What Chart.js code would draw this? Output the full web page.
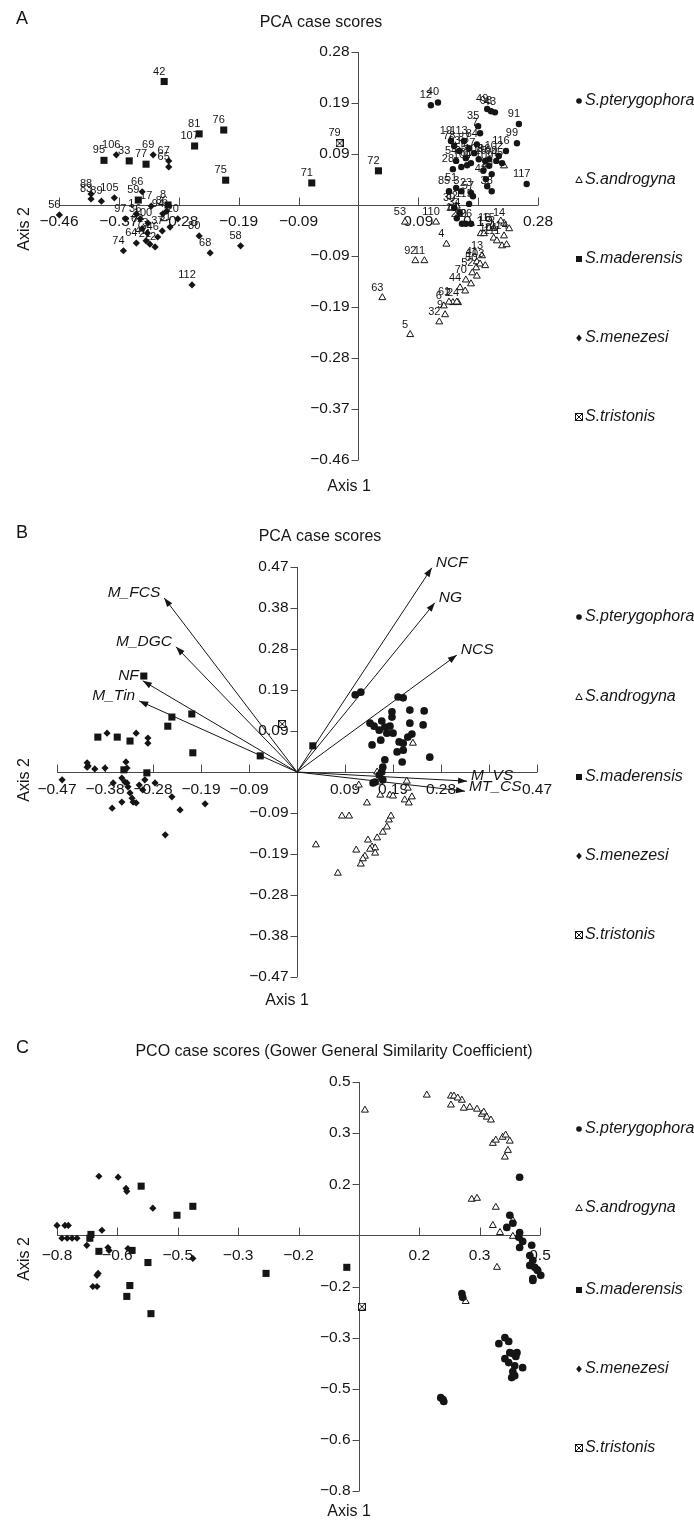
<!DOCTYPE html>
<html>
<head>
<meta charset="utf-8">
<title>PCA / PCO case scores</title>
<script src="https://cdn.jsdelivr.net/npm/chart.js@4.4.1/dist/chart.umd.min.js"></script>
<style>
  html, body { margin: 0; padding: 0; background: #fff; }
  #page { position: relative; width: 694px; height: 1525px; overflow: hidden; }
  #page canvas { position: absolute; left: 0; }
</style>
</head>
<body>
<div id="page">
  <canvas id="panelA" width="694" height="510" style="top:0px"></canvas>
  <canvas id="panelB" width="694" height="500" style="top:510px"></canvas>
  <canvas id="panelC" width="694" height="505" style="top:1020px"></canvas>
</div>
<script>
'use strict';

var speciesNames = ['S.pterygophora', 'S.androgyna', 'S.maderensis', 'S.menezesi', 'S.tristonis'];

// Axis ticks (same step both ways on each panel)
var pcaTicks = [-0.4625, -0.37, -0.2775, -0.185, -0.0925, 0.0925, 0.185, 0.2775];
var pcaTickLabels = ['\u22120.46', '\u22120.37', '\u22120.28', '\u22120.19', '\u22120.09', '0.09', '0.19', '0.28'];

var biplotTicks = [-0.47, -0.376, -0.282, -0.188, -0.094, 0.094, 0.188, 0.282, 0.376, 0.47];
var biplotXTickLabels = ['\u22120.47', '\u22120.38', '\u22120.28', '\u22120.19', '\u22120.09', '0.09', '0.19', '0.28', '', '0.47'];
var biplotYTickLabels = ['\u22120.47', '\u22120.38', '\u22120.28', '\u22120.19', '\u22120.09', '0.09', '0.19', '0.28', '0.38', '0.47'];

var pcoTicks = [-0.8, -0.64, -0.48, -0.32, -0.16, 0.16, 0.32, 0.48];
var pcoTickLabels = ['\u22120.8', '\u22120.6', '\u22120.5', '\u22120.3', '\u22120.2', '0.2', '0.3', '0.5'];

// ---- Panel A : PCA case scores, [axis1, axis2, case number] ----
var aPterygophora = [
  [0.112, 0.181, '12'], [0.123, 0.186, '40'], [0.199, 0.174, '49'], [0.205, 0.170, '98'],
  [0.211, 0.168, '43'], [0.248, 0.147, '91'], [0.245, 0.112, '99'], [0.185, 0.143, '35'],
  [0.188, 0.130, '7'], [0.228, 0.098, '116'], [0.146, 0.065, '28'], [0.168, 0.072, '104'],
  [0.206, 0.056, '10'], [0.202, 0.071, '109'], [0.260, 0.038, '117'], [0.197, 0.047, '48'],
  [0.206, 0.025, '38'], [0.140, 0.025, '85'], [0.151, 0.031, '51'], [0.159, 0.025, '3'],
  [0.174, 0.022, '23'], [0.177, 0.016, '57'], [0.171, 0.002, '115'], [0.148, -0.005, '30'],
  [0.156, -0.014, '34'], [0.152, -0.024, '18'], [0.160, -0.034, '29'], [0.166, -0.034, '39'],
  [0.174, -0.034, '26'], [0.143, 0.116, '19'], [0.148, 0.107, '78'], [0.156, 0.098, '93'],
  [0.163, 0.116, '113'], [0.171, 0.103, '87'], [0.179, 0.094, '27'], [0.183, 0.110, '84'],
  [0.151, 0.080, '54'], [0.166, 0.085, '55'], [0.174, 0.076, '60'], [0.186, 0.083, '108'],
  [0.196, 0.080, '25'], [0.202, 0.083, '96'], [0.213, 0.080, '90'], [0.217, 0.089, '102'],
  [0.222, 0.076, '45'], [0.159, 0.069, ''], [0.193, 0.062, ''], [0.199, 0.034, '']
];
var aAndrogyna = [
  [0.080, -0.235, '5'], [0.037, -0.168, '63'], [0.088, -0.101, '92'], [0.102, -0.101, '11'],
  [0.136, -0.071, '4'], [0.120, -0.031, '110'], [0.072, -0.031, '53'], [0.183, -0.103, '41'],
  [0.182, -0.114, '50'], [0.176, -0.123, '52'], [0.166, -0.136, '70'], [0.157, -0.150, '44'],
  [0.154, -0.177, '24'], [0.146, -0.177, '2'], [0.140, -0.176, '61'], [0.134, -0.199, '9'],
  [0.125, -0.212, '32'], [0.132, -0.183, '6'], [0.191, -0.092, '13'], [0.188, -0.107, '103'],
  [0.196, -0.110, ''], [0.183, -0.129, ''], [0.174, -0.143, ''], [0.165, -0.156, ''],
  [0.152, -0.176, ''], [0.189, -0.052, ''], [0.194, -0.052, ''], [0.209, -0.060, '101'],
  [0.214, -0.065, '111'], [0.225, -0.056, '114'], [0.225, -0.033, '14'], [0.209, -0.042, '15'],
  [0.202, -0.042, '16'], [0.225, 0.071, ''], [0.152, -0.002, '82'], [0.143, -0.005, ''],
  [0.220, -0.029, ''], [0.233, -0.043, ''], [0.222, -0.074, ''], [0.229, -0.072, '']
];
var aMaderensis = [
  [-0.300, 0.224, '42'], [-0.246, 0.129, '81'], [-0.253, 0.107, '107'], [-0.208, 0.136, '76'],
  [-0.393, 0.081, '95'], [-0.354, 0.080, '33'], [-0.328, 0.074, '77'], [-0.205, 0.045, '75'],
  [-0.072, 0.040, '71'], [0.031, 0.062, '72'], [-0.340, 0.009, '59'], [-0.294, 0.000, '8']
];
var aMenezesi = [
  [-0.462, -0.018, '56'], [-0.374, 0.091, '106'], [-0.317, 0.091, '69'], [-0.293, 0.080, '67'],
  [-0.293, 0.069, '65'], [-0.413, 0.020, '88'], [-0.413, 0.011, '83'], [-0.397, 0.007, '89'],
  [-0.377, 0.013, '105'], [-0.334, 0.024, '66'], [-0.360, -0.025, '97'], [-0.343, -0.016, '1'],
  [-0.337, -0.025, '36'], [-0.325, -0.033, '100'], [-0.302, -0.016, '94'], [-0.303, -0.047, '37'],
  [-0.279, -0.025, '20'], [-0.246, -0.056, '80'], [-0.229, -0.087, '68'], [-0.182, -0.074, '58'],
  [-0.363, -0.083, '74'], [-0.343, -0.069, '64'], [-0.328, -0.065, '47'], [-0.322, -0.071, '21'],
  [-0.314, -0.076, '22'], [-0.334, -0.043, '62'], [-0.326, -0.051, '73'], [-0.257, -0.145, '112'],
  [-0.296, -0.011, '86'], [-0.320, -0.002, '17'], [-0.310, -0.058, '46'], [-0.291, -0.040, '31']
];
var aTristonis = [[-0.029, 0.112, '79']];

// ---- Panel B : PCA biplot ----
var bPterygophora = [
  [0.114, 0.177], [0.125, 0.183], [0.198, 0.172], [0.208, 0.170], [0.221, 0.142], [0.249, 0.140],
  [0.186, 0.138], [0.186, 0.126], [0.166, 0.117], [0.143, 0.112], [0.151, 0.105], [0.161, 0.096],
  [0.172, 0.103], [0.182, 0.105], [0.188, 0.089], [0.176, 0.089], [0.164, 0.073], [0.147, 0.062],
  [0.225, 0.087], [0.217, 0.080], [0.200, 0.069], [0.208, 0.066], [0.247, 0.108], [0.196, 0.046],
  [0.208, 0.050], [0.260, 0.034], [0.206, 0.023], [0.172, 0.028], [0.168, 0.011], [0.166, 0.000],
  [0.161, -0.007], [0.153, -0.023], [0.149, -0.025], [0.168, -0.018], [0.221, 0.112]
];
var bAndrogyna = [
  [0.121, -0.030], [0.137, -0.071], [0.088, -0.101], [0.102, -0.101], [0.037, -0.167], [0.080, -0.232],
  [0.116, -0.179], [0.139, -0.156], [0.147, -0.172], [0.153, -0.174], [0.157, -0.151], [0.168, -0.138],
  [0.176, -0.126], [0.180, -0.110], [0.184, -0.101], [0.133, -0.193], [0.129, -0.199], [0.125, -0.211],
  [0.153, -0.186], [0.157, 0.000], [0.163, -0.053], [0.182, -0.053], [0.188, -0.055], [0.211, -0.064],
  [0.215, -0.021], [0.225, -0.057], [0.219, -0.071], [0.227, 0.066], [0.161, -0.023], [0.217, -0.037],
  [0.143, -0.177]
];
var bMaderensis = [
  [-0.390, 0.080], [-0.352, 0.080], [-0.327, 0.071], [-0.253, 0.105], [-0.245, 0.126], [-0.206, 0.133],
  [-0.204, 0.044], [-0.072, 0.037], [0.031, 0.060], [-0.339, 0.005], [-0.294, -0.002], [-0.300, 0.220]
];
var bMenezesi = [
  [-0.460, -0.018], [-0.411, 0.021], [-0.409, 0.014], [-0.396, 0.007], [-0.376, 0.009], [-0.372, 0.089],
  [-0.362, -0.083], [-0.360, -0.025], [-0.343, -0.069], [-0.343, -0.014], [-0.337, -0.023], [-0.335, 0.023],
  [-0.333, 0.009], [-0.331, -0.034], [-0.327, -0.048], [-0.323, -0.060], [-0.321, -0.069], [-0.315, -0.071],
  [-0.315, 0.089], [-0.309, -0.030], [-0.302, -0.041], [-0.298, -0.018], [-0.292, 0.078], [-0.292, 0.066],
  [-0.278, -0.025], [-0.258, -0.144], [-0.245, -0.057], [-0.229, -0.087], [-0.180, -0.073], [-0.333, -0.025],
  [-0.411, 0.011]
];
var bTristonis = [[-0.029, 0.110]];

// variable vectors of the biplot
var vectorNames = ['M_FCS', 'M_DGC', 'NF', 'M_Tin', 'NCF', 'NG', 'NCS', 'M_VS', 'MT_CS'];
var vectorX = [-0.260, -0.237, -0.302, -0.309, 0.264, 0.270, 0.313, 0.333, 0.329];
var vectorY = [0.399, 0.287, 0.209, 0.163, 0.468, 0.388, 0.268, -0.021, -0.044];

// ---- Panel C : PCO case scores ----
var cPterygophora = [
  [0.426, 0.182], [0.400, 0.063], [0.408, 0.038], [0.392, 0.025], [0.426, 0.009], [0.424, -0.006],
  [0.434, -0.019], [0.426, -0.038], [0.458, -0.031], [0.453, -0.063], [0.461, -0.078], [0.453, -0.094],
  [0.466, -0.100], [0.474, -0.110], [0.482, -0.125], [0.461, -0.135], [0.472, -0.107], [0.273, -0.182],
  [0.275, -0.194], [0.371, -0.339], [0.387, -0.320], [0.397, -0.332], [0.400, -0.367], [0.408, -0.370],
  [0.419, -0.367], [0.416, -0.379], [0.387, -0.386], [0.397, -0.398], [0.413, -0.408], [0.434, -0.414],
  [0.408, -0.426], [0.405, -0.445], [0.413, -0.439], [0.217, -0.508], [0.223, -0.514], [0.225, -0.520],
  [0.461, -0.141]
];
var cAndrogyna = [
  [0.016, 0.392], [0.180, 0.439], [0.244, 0.436], [0.252, 0.436], [0.244, 0.408], [0.273, 0.423],
  [0.278, 0.398], [0.294, 0.401], [0.262, 0.430], [0.313, 0.395], [0.326, 0.379], [0.331, 0.386],
  [0.339, 0.370], [0.350, 0.361], [0.355, 0.288], [0.363, 0.298], [0.381, 0.307], [0.389, 0.314],
  [0.400, 0.295], [0.395, 0.266], [0.387, 0.245], [0.299, 0.113], [0.313, 0.116], [0.363, 0.088],
  [0.355, 0.031], [0.374, 0.009], [0.408, 0.047], [0.408, -0.003], [0.366, -0.100], [0.283, -0.207]
];
var cMaderensis = [
  [-0.577, 0.154], [-0.440, 0.091], [-0.482, 0.063], [-0.710, 0.003], [-0.713, -0.009], [-0.689, -0.050],
  [-0.601, -0.047], [-0.559, -0.085], [-0.246, -0.119], [-0.607, -0.157], [-0.615, -0.191], [-0.551, -0.245],
  [-0.032, -0.100]
];
var cMenezesi = [
  [-0.689, 0.185], [-0.638, 0.182], [-0.617, 0.147], [-0.615, 0.138], [-0.546, 0.085], [-0.800, 0.031],
  [-0.779, 0.031], [-0.770, 0.031], [-0.787, -0.009], [-0.773, -0.009], [-0.760, -0.009], [-0.747, -0.009],
  [-0.681, 0.016], [-0.721, -0.031], [-0.665, -0.038], [-0.662, -0.047], [-0.612, -0.041], [-0.440, -0.072],
  [-0.691, -0.119], [-0.694, -0.125], [-0.705, -0.160], [-0.694, -0.160]
];
var cTristonis = [[0.008, -0.223]];

// ---- styling ----
var INK = '#151515';
var AXIS_COLOR = '#4a4a4a';
var FONT = '"Liberation Sans", Arial, Helvetica, sans-serif';

function makeTristonisMarker(size) {
  var c = document.createElement('canvas');
  c.width = size;
  c.height = size;
  var g = c.getContext('2d');
  g.fillStyle = '#fff';
  g.fillRect(0, 0, size, size);
  g.strokeStyle = INK;
  g.lineWidth = 1;
  g.strokeRect(0.5, 0.5, size - 1, size - 1);
  g.beginPath();
  g.moveTo(1, 1);
  g.lineTo(size - 1, size - 1);
  g.moveTo(size - 1, 1);
  g.lineTo(1, size - 1);
  g.stroke();
  return c;
}

var markerStyles = [
  { pointStyle: 'circle', radius: 3.2, fill: INK, border: 0 },
  { pointStyle: 'triangle', radius: 4, fill: '#fff', border: 1 },
  { pointStyle: 'rect', radius: 5, fill: INK, border: 0 },
  { pointStyle: 'rectRot', radius: 3.6, fill: INK, border: 0 },
  { pointStyle: makeTristonisMarker(8), radius: 4, fill: '#fff', border: 1 }
];

function speciesDataset(idx, rows, scale) {
  var s = markerStyles[idx];
  return {
    label: speciesNames[idx],
    data: rows.map(function (r) { return { x: r[0], y: r[1] }; }),
    caseLabels: rows.map(function (r) { return r[2] || ''; }),
    pointStyle: s.pointStyle,
    pointRadius: idx === 0 ? s.radius * scale : s.radius,
    pointBackgroundColor: s.fill,
    pointBorderColor: INK,
    pointBorderWidth: s.border,
    showLine: false,
    clip: false
  };
}

function vectorDatasets() {
  return vectorNames.map(function (name, i) {
    return {
      label: name,
      arrowLabel: name,
      data: [{ x: 0, y: 0 }, { x: vectorX[i], y: vectorY[i] }],
      showLine: true,
      borderColor: INK,
      borderWidth: 1,
      pointRadius: 0,
      clip: false
    };
  });
}

function drawLegendMarker(ctx, idx, x, y) {
  ctx.beginPath();
  if (idx === 0) {
    ctx.arc(x, y, 2.8, 0, Math.PI * 2);
    ctx.fill();
  } else if (idx === 1) {
    ctx.moveTo(x, y - 3.5);
    ctx.lineTo(x + 3.2, y + 2.5);
    ctx.lineTo(x - 3.2, y + 2.5);
    ctx.closePath();
    ctx.stroke();
  } else if (idx === 2) {
    ctx.fillRect(x - 3, y - 3, 6, 6);
  } else if (idx === 3) {
    ctx.moveTo(x, y - 3.6);
    ctx.lineTo(x + 2.8, y);
    ctx.lineTo(x, y + 3.6);
    ctx.lineTo(x - 2.8, y);
    ctx.closePath();
    ctx.fill();
  } else {
    ctx.drawImage(markerStyles[4].pointStyle, x - 4, y - 4);
  }
}

var figurePlugin = {
  id: 'figure',
  beforeDatasetsDraw: function (chart, args, opts) {
    var ctx = chart.ctx;
    var area = chart.chartArea;
    var xs = chart.scales.x;
    var ys = chart.scales.y;
    var x0 = Math.round(xs.getPixelForValue(0)) + 0.5;
    var y0 = Math.round(ys.getPixelForValue(0)) + 0.5;

    ctx.save();
    ctx.strokeStyle = AXIS_COLOR;
    ctx.lineWidth = 1;
    ctx.beginPath();
    ctx.moveTo(area.left, y0);
    ctx.lineTo(area.right, y0);
    ctx.moveTo(x0, area.top);
    ctx.lineTo(x0, area.bottom);
    opts.xTicks.forEach(function (v) {
      var px = Math.round(xs.getPixelForValue(v)) + 0.5;
      ctx.moveTo(px, y0);
      ctx.lineTo(px, y0 - 8);
    });
    opts.yTicks.forEach(function (v) {
      var py = Math.round(ys.getPixelForValue(v)) + 0.5;
      ctx.moveTo(x0 - 7, py);
      ctx.lineTo(x0, py);
    });
    ctx.stroke();

    ctx.fillStyle = INK;
    ctx.font = '15.5px ' + FONT;
    ctx.textBaseline = 'middle';
    ctx.textAlign = 'center';
    opts.xTicks.forEach(function (v, i) {
      ctx.fillText(opts.xTickLabels[i], xs.getPixelForValue(v), y0 + opts.xLabelGap);
    });
    ctx.textAlign = 'right';
    opts.yTicks.forEach(function (v, i) {
      ctx.fillText(opts.yTickLabels[i], x0 - 9, ys.getPixelForValue(v));
    });
    ctx.restore();
  },
  afterDatasetsDraw: function (chart, args, opts) {
    var ctx = chart.ctx;
    ctx.save();
    ctx.fillStyle = INK;
    ctx.strokeStyle = INK;
    ctx.textBaseline = 'middle';

    // case numbers next to points (panel A)
    ctx.font = '11px ' + FONT;
    ctx.textAlign = 'center';
    chart.data.datasets.forEach(function (ds, i) {
      if (!ds.caseLabels) {
        return;
      }
      chart.getDatasetMeta(i).data.forEach(function (el, j) {
        if (ds.caseLabels[j]) {
          ctx.fillText(ds.caseLabels[j], el.x - 5, el.y - 10);
        }
      });
    });

    // arrow heads and variable names (panel B)
    ctx.font = 'italic 15.5px ' + FONT;
    chart.data.datasets.forEach(function (ds, i) {
      if (!ds.arrowLabel) {
        return;
      }
      var pts = chart.getDatasetMeta(i).data;
      var a = pts[0];
      var b = pts[pts.length - 1];
      var ang = Math.atan2(b.y - a.y, b.x - a.x);
      var c = Math.cos(ang);
      var s = Math.sin(ang);
      ctx.beginPath();
      ctx.moveTo(b.x, b.y);
      ctx.lineTo(b.x - 9 * c + 3.2 * s, b.y - 9 * s - 3.2 * c);
      ctx.lineTo(b.x - 9 * c - 3.2 * s, b.y - 9 * s + 3.2 * c);
      ctx.closePath();
      ctx.fill();
      var toLeft = b.x < a.x;
      ctx.textAlign = toLeft ? 'right' : 'left';
      ctx.fillText(ds.arrowLabel, b.x + (toLeft ? -4 : 4), b.y - 5);
    });

    // panel letter, title, axis names
    ctx.textAlign = 'left';
    ctx.font = '18px ' + FONT;
    ctx.fillText(opts.letter, opts.letterPos[0], opts.letterPos[1]);
    ctx.textAlign = 'center';
    ctx.font = '16px ' + FONT;
    ctx.fillText(opts.title, opts.titlePos[0], opts.titlePos[1]);
    ctx.fillText('Axis 1', opts.axis1Pos[0], opts.axis1Pos[1]);
    ctx.save();
    ctx.translate(opts.axis2Pos[0], opts.axis2Pos[1]);
    ctx.rotate(-Math.PI / 2);
    ctx.fillText('Axis 2', 0, 0);
    ctx.restore();

    // legend
    ctx.textAlign = 'left';
    ctx.font = 'italic 16px ' + FONT;
    ctx.lineWidth = 1;
    speciesNames.forEach(function (name, i) {
      var y = opts.legendY[i];
      drawLegendMarker(ctx, i, opts.legendX, y);
      ctx.fillText(name, opts.legendX + 6, y);
    });
    ctx.restore();
  }
};

function buildPanel(canvasId, datasets, panel) {
  var ctx = document.getElementById(canvasId).getContext('2d');
  return new Chart(ctx, {
    type: 'scatter',
    data: { datasets: datasets },
    options: {
      responsive: false,
      animation: false,
      devicePixelRatio: 1,
      events: [],
      layout: { padding: panel.padding },
      scales: {
        x: { type: 'linear', display: false, min: panel.xMin, max: panel.xMax },
        y: { type: 'linear', display: false, min: panel.yMin, max: panel.yMax }
      },
      plugins: {
        legend: { display: false },
        tooltip: { enabled: false },
        figure: panel.figure
      }
    },
    plugins: [figurePlugin]
  });
}

document.addEventListener('DOMContentLoaded', function () {
  if (typeof window.Chart !== 'function') {
    console.error('Chart.js introuvable.');
    return;
  }

  // A - PCA case scores with case numbers
  buildPanel('panelA', [
    speciesDataset(0, aPterygophora, 1),
    speciesDataset(2, aMaderensis, 1),
    speciesDataset(3, aMenezesi, 1),
    speciesDataset(4, aTristonis, 1),
    speciesDataset(1, aAndrogyna, 1)
  ], {
    padding: { left: 59, right: 156, top: 52, bottom: 50 },
    xMin: -0.4625, xMax: 0.2775, yMin: -0.4625, yMax: 0.2775,
    figure: {
      letter: 'A', letterPos: [16, 19],
      title: 'PCA case scores', titlePos: [321, 23],
      xTicks: pcaTicks, xTickLabels: pcaTickLabels,
      yTicks: pcaTicks, yTickLabels: pcaTickLabels,
      xLabelGap: 16,
      axis1Pos: [349, 487], axis2Pos: [25, 229],
      legendX: 579, legendY: [101, 180, 259, 338, 417]
    }
  });

  // B - PCA biplot with variable vectors
  buildPanel('panelB', [
    speciesDataset(0, bPterygophora, 1.2),
    speciesDataset(2, bMaderensis, 1),
    speciesDataset(3, bMenezesi, 1),
    speciesDataset(4, bTristonis, 1),
    speciesDataset(1, bAndrogyna, 1)
  ].concat(vectorDatasets()), {
    padding: { left: 57, right: 157, top: 57, bottom: 33 },
    xMin: -0.47, xMax: 0.47, yMin: -0.47, yMax: 0.47,
    figure: {
      letter: 'B', letterPos: [16, 23],
      title: 'PCA case scores', titlePos: [320, 27],
      xTicks: biplotTicks, xTickLabels: biplotXTickLabels,
      yTicks: biplotTicks, yTickLabels: biplotYTickLabels,
      xLabelGap: 17,
      axis1Pos: [287, 491], axis2Pos: [25, 270],
      legendX: 579, legendY: [107, 187, 267, 346, 425]
    }
  });

  // C - PCO case scores
  buildPanel('panelC', [
    speciesDataset(0, cPterygophora, 1.2),
    speciesDataset(2, cMaderensis, 1),
    speciesDataset(3, cMenezesi, 1),
    speciesDataset(4, cTristonis, 1),
    speciesDataset(1, cAndrogyna, 1)
  ], {
    padding: { left: 57, right: 154, top: 62, bottom: 34 },
    xMin: -0.8, xMax: 0.48, yMin: -0.8, yMax: 0.48,
    figure: {
      letter: 'C', letterPos: [16, 28],
      title: 'PCO case scores (Gower General Similarity Coefficient)', titlePos: [334, 32],
      xTicks: pcoTicks, xTickLabels: pcoTickLabels,
      yTicks: pcoTicks, yTickLabels: pcoTickLabels,
      xLabelGap: 20,
      axis1Pos: [349, 492], axis2Pos: [25, 239],
      legendX: 579, legendY: [109, 188, 270, 349, 428]
    }
  });
});
</script>
</body>
</html>
